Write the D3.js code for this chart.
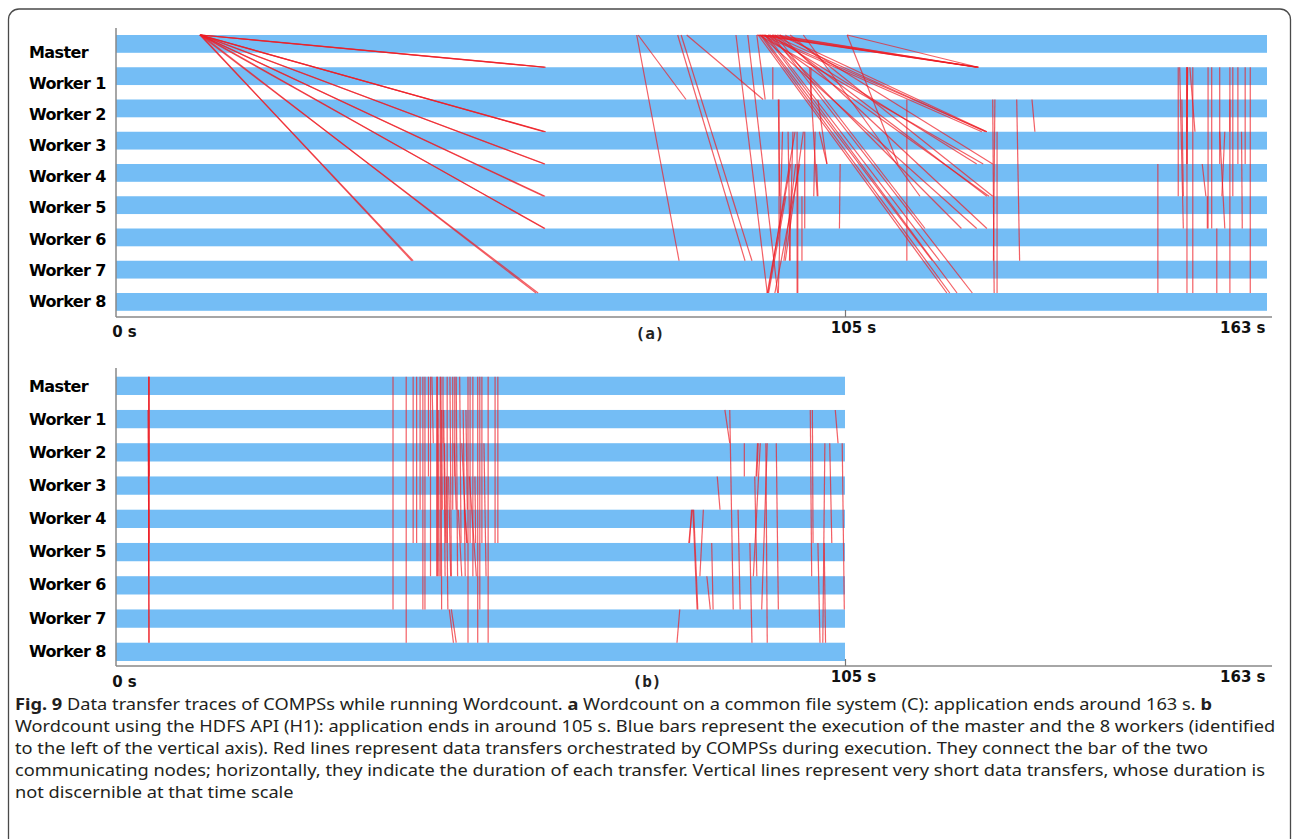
<!DOCTYPE html>
<html><head><meta charset="utf-8">
<script src="https://cdn.jsdelivr.net/npm/d3@7"></script>
<style>body{margin:0;background:#fff}svg{display:block}</style>
</head><body>
<svg id="c" width="1292" height="839"></svg>
<script>
// ---------------- data ----------------
const nodes = ["Master","Worker 1","Worker 2","Worker 3","Worker 4","Worker 5","Worker 6","Worker 7","Worker 8"];
const tickValues = [0, 105, 163];
const tickLabels = ["0 s", "105 s", "163 s"];
const panelLabels = ["(a)", "(b)"];
const endA = 163;   // application end, panel (a)
const endB = 105;   // application end, panel (b)

// transfers: [start time (s), source node index, end time (s), destination node index]
const transfersA = [
  // first fan from the master
  [12.1,0,61.8,1],[12.2,0,61.7,1],[12.3,0,61.9,1],
  [12.1,0,61.8,3],[12.2,0,61.6,3],[12.0,0,61.9,3],
  [12.1,0,61.8,4],[12.3,0,61.7,4],
  [12.1,0,61.8,5],[12.2,0,61.6,5],
  [12.1,0,61.8,6],[12.3,0,61.7,6],
  [12.1,0,42.8,7],[12.2,0,42.6,7],
  [12.1,0,60.8,8],[12.3,0,60.5,8],
  // middle cluster
  [75.0,0,81.1,7],[75.2,0,82.1,2],[80.9,0,90.6,7],[81.4,0,91.6,7],[82.2,0,93.2,2],
  [89.3,0,93.8,8],[91.0,0,95.3,8],[92.3,0,93.5,2],
  [93.9,8,97.8,3],[94.9,8,98.5,4],[96.4,7,99.0,3],[95.5,2,95.5,6],[96.8,3,97.1,7],
  [98.1,3,98.1,8],[98.8,5,98.8,7],[99.2,3,99.2,6],[100.7,3,100.5,5],[100.1,1,100.1,2],
  [101.1,2,102.4,4],[94.6,1,94.6,2],[95.4,2,95.6,5],[98.2,4,98.2,8],[99.9,1,101.0,5],
  [101.3,3,102.4,4],[100.9,4,101.1,5],[104.3,4,104.2,6],[93.8,8,97.2,4],[96.0,3,95.4,8],
  [97.5,3,97.0,7],[96.2,7,97.9,4],[94.0,8,96.5,5],
  // second fan from the master
  [92.3,0,123.3,1],[92.8,0,123.0,1],[93.2,0,123.3,1],[93.9,0,123.1,1],[105.3,0,123.3,1],
  [94.6,0,123.4,1],[95.2,0,123.2,1],
  [93.5,0,124.5,3],[94.5,0,124.3,3],[95.6,0,124.5,3],[93.0,0,123.8,3],
  [94.2,0,123.1,4],[96.4,0,125.3,4],[92.6,0,124.0,4],
  [94.9,0,124.5,5],[97.1,0,125.3,5],[93.3,0,124.8,5],
  [92.8,0,123.1,6],[95.6,0,124.5,6],[94.0,0,121.0,6],
  [92.8,0,119.4,8],[93.5,0,120.4,8],[94.5,0,122.5,8],[92.5,0,119.0,8],
  [105.3,0,112.3,4],[99.0,0,115.3,5],[93.0,0,117.0,7],[93.7,0,118.0,7],[95.0,0,116.0,6],
  // vertical transfers after the fan
  [113.5,2,113.5,7],[125.3,2,125.5,8],[125.6,2,125.4,7],[125.9,3,125.9,8],
  [128.6,2,129.0,7],[130.7,2,131.1,3],
  // final cluster
  [148.0,4,148.0,8],[150.8,1,150.8,5],[151.0,1,151.5,6],[152.0,1,152.0,4],[152.0,1,152.0,4],
  [152.1,1,152.0,3],[152.0,1,152.0,8],[152.4,1,153.1,3],[152.8,1,152.8,8],[154.9,1,154.9,6],
  [155.4,1,155.4,6],[156.1,6,156.1,8],[156.5,1,156.5,4],[157.9,1,157.9,8],[157.9,2,157.9,3],
  [158.3,1,158.3,5],[159.0,1,159.0,4],[160.0,1,160.0,4],[160.7,1,160.7,8],[154.1,4,154.6,5],
  [154.8,5,154.8,6],[156.5,3,157.2,6],[157.2,3,156.8,5],[151.3,2,151.5,5],[159.5,3,159.6,6]
];

const transfersB = [
  // early broadcast
  [4.7,0,4.7,8],[4.7,0,4.8,5],[4.6,1,4.7,4],[4.7,2,4.7,6],[4.8,0,4.8,3],[4.7,4,4.8,8],
  // first cluster
  [39.9,0,39.9,7],[41.8,0,41.8,8],[42.8,0,42.8,5],[43.8,0,43.8,4],[44.5,0,44.5,7],
  [45.0,0,45.0,3],[46.2,0,46.2,6],[46.7,0,46.7,6],[46.8,0,46.9,7],[47.1,0,47.1,2],
  [47.2,1,47.4,6],[47.7,0,47.7,5],[48.1,0,48.3,6],[48.5,0,48.5,4],[48.0,7,48.6,8],
  [48.3,7,49.0,8],[49.0,0,49.2,6],[49.5,0,49.7,5],[50.0,1,50.3,6],[50.7,0,50.7,8],
  [51.4,0,51.4,6],[52.1,0,52.1,8],[52.4,0,52.4,7],[53.6,0,53.6,8],[54.6,0,54.6,5],
  [55.0,0,55.0,1],[55.0,1,55.0,5],[44.2,0,44.2,7],[45.5,0,45.7,2],[49.8,2,50.5,5],
  [50.9,3,51.9,6],[51.0,0,51.0,5],[53.0,2,53.3,6],
  [46.3,0,46.3,6],[46.4,1,46.5,6],[46.9,1,47.0,4],[47.3,2,47.5,5],[47.9,3,48.2,6],
  [48.7,2,49.0,4],[49.3,4,49.8,6],[50.2,4,50.6,5],[51.7,3,51.8,5],[52.7,0,52.7,5],
  [43.3,0,43.3,5],[45.3,0,45.3,6],[48.8,0,48.8,3],[50.4,1,50.6,4],[47.6,3,47.8,7],
  // second cluster
  [87.7,1,88.4,2],[88.4,1,88.9,7],[90.5,2,90.5,3],[92.5,2,92.3,3],[92.4,2,92.2,3],
  [92.8,2,91.8,6],[93.6,2,93.8,8],[93.8,2,93.0,7],[95.1,2,95.4,7],[86.6,3,87.0,4],
  [83.0,4,82.5,5],[82.9,4,82.6,5],[83.1,4,83.7,7],[83.2,4,83.8,7],[84.6,4,84.1,6],
  [85.8,5,86.0,7],[85.1,6,85.6,7],[81.2,7,80.8,8],[89.6,4,89.9,7],[91.3,5,91.6,8],
  [92.0,3,92.3,6],[100.3,1,100.4,5],[103.6,1,104.0,2],[102.1,2,101.8,8],[102.8,2,103.1,5],
  [104.6,2,104.9,7],[101.1,5,101.4,8],[100.0,1,100.2,6],[102.0,5,102.2,8]
];

const captionLines = [
  [["Fig. 9",1],[" Data transfer traces of COMPSs while running Wordcount. ",0],["a",1],[" Wordcount on a common file system (C): application ends around 163 s. ",0],["b",1]],
  [["Wordcount using the HDFS API (H1): application ends in around 105 s. Blue bars represent the execution of the master and the 8 workers (identified",0]],
  [["to the left of the vertical axis). Red lines represent data transfers orchestrated by COMPSs during execution. They connect the bar of the two",0]],
  [["communicating nodes; horizontally, they indicate the duration of each transfer. Vertical lines represent very short data transfers, whose duration is",0]],
  [["not discernible at that time scale",0]]
];

// ---------------- drawing ----------------
const svg = d3.select("#c");
svg.append("rect").attr("width",1292).attr("height",839).attr("fill","#fff");
svg.append("path")
  .attr("d","M8.5,839V19.5A10.5,10.5 0 0 1 19,9H1280A10.5,10.5 0 0 1 1290.5,19.5V839")
  .attr("fill","none").attr("stroke","#4a4a4a").attr("stroke-width",1.3);

const x = d3.scaleLinear().domain(tickValues).range([116, 845, 1267]);

const layouts = [
  {data: transfersA, end: endA, barTop: 35, barBottom: 310.8, pad: 0.448, lblTop: 58, lblBot: 306.7,
   axisY: 317, axisTop: 28, tickY: [337, 333, 333], labelX: 650, labelY: 339},
  {data: transfersB, end: endB, barTop: 376.7, barBottom: 661, pad: 0.45, lblTop: 391.7, lblBot: 656.7,
   axisY: 666, axisTop: 368, tickY: [687, 682, 682], labelX: 647, labelY: 687}
];

layouts.forEach((p, pi) => {
  const g = svg.append("g");
  const y = d3.scaleBand().domain(nodes).range([p.barTop, p.barBottom]).paddingInner(p.pad).paddingOuter(0);
  const yl = d3.scalePoint().domain(nodes).range([p.lblTop, p.lblBot]);

  g.selectAll("rect.bar").data(nodes).join("rect").attr("class","bar")
    .attr("x", x(0)).attr("y", d => y(d))
    .attr("width", x(p.end) - x(0)).attr("height", y.bandwidth())
    .attr("fill", "#74bdf5");

  g.selectAll("line.tr").data(p.data).join("line").attr("class","tr")
    .attr("x1", d => x(d[0])).attr("y1", d => y(nodes[d[1]]))
    .attr("x2", d => x(d[2])).attr("y2", d => y(nodes[d[3]]))
    .attr("stroke", "#ee1c24").attr("stroke-width", 1.2).attr("stroke-opacity", 0.7);

  g.selectAll("text.node").data(nodes).join("text").attr("class","node")
    .attr("x", 29).attr("y", d => yl(d))
    .attr("font-family", "DejaVu Sans").attr("font-weight", "bold").attr("font-size", 16)
    .attr("letter-spacing", -0.6).attr("fill", "#000").text(d => d);

  // vertical axis
  svg.append("line").attr("x1", 116).attr("x2", 116).attr("y1", p.axisTop).attr("y2", p.axisY)
    .attr("stroke", "#888").attr("stroke-width", 1.5);

  const ax = d3.axisBottom(x).tickValues(tickValues).tickFormat((d, i) => tickLabels[i])
    .tickSizeInner(-7).tickSizeOuter(0);
  const ag = svg.append("g").attr("transform", `translate(0,${p.axisY})`).call(ax);
  ag.select(".domain").attr("d", "M116,0H1272").attr("stroke", "#888").attr("stroke-width", 1.5);
  ag.selectAll(".tick line").attr("stroke", "#777").attr("stroke-width", 1.2)
    .attr("opacity", d => d === 105 ? 1 : 0);
  ag.selectAll(".tick text")
    .attr("font-family", "DejaVu Sans").attr("font-weight", "bold").attr("font-size", 15)
    .attr("fill", "#111")
    .attr("text-anchor", d => d === 163 ? "end" : "middle")
    .attr("x", d => d === 163 ? -2 : 8)
    .attr("y", (d, i) => p.tickY[i] - p.axisY).attr("dy", 0);

  svg.append("text").attr("x", p.labelX).attr("y", p.labelY).attr("text-anchor", "middle")
    .attr("font-family", "DejaVu Sans Mono").attr("font-weight", "bold").attr("font-size", 16)
    .attr("fill", "#222").text(panelLabels[pi]);
});

// caption
const cap = svg.append("g");
const capTexts = captionLines.map((segs, i) => {
  const t = cap.append("text").attr("font-family", "Noto Sans").attr("font-size", 15.5).attr("fill", "#231f20");
  segs.forEach(s => t.append("tspan").attr("font-weight", s[1] ? "bold" : "normal").text(s[0]));
  return t;
});
const w2 = capTexts[1].node().getComputedTextLength();
const sx = 1262 / w2;
const capY = [710, 732, 754, 776, 798];
capTexts.forEach((t, i) => t.attr("transform", `translate(15,${capY[i]}) scale(${sx},1)`));
</script>
</body></html>
